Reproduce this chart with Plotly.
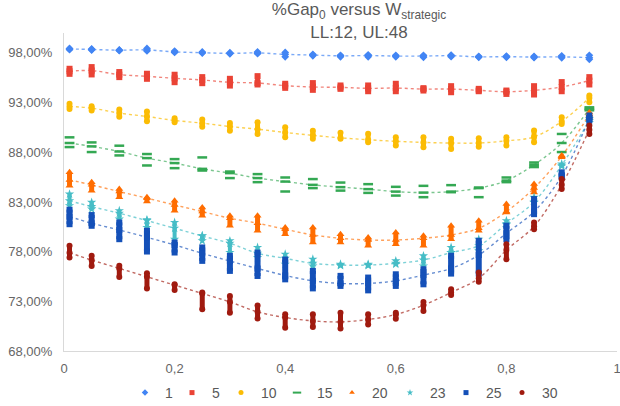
import plotly.graph_objects as go

# ---------------- data ----------------
x_vals = [0.01, 0.05, 0.10, 0.15, 0.20, 0.25, 0.30, 0.35, 0.40, 0.45,
          0.50, 0.55, 0.60, 0.65, 0.70, 0.75, 0.80, 0.85, 0.90, 0.95]

series_names = ["1", "5", "10", "15", "20", "23", "25", "30"]

s1_mid = [98.40, 98.34, 98.27, 98.30, 98.10, 98.02, 97.95, 98.00, 97.85, 97.78,
          97.70, 97.73, 97.68, 97.68, 97.72, 97.60, 97.62, 97.58, 97.60, 97.52]
s1_lo = [98.32, 98.28, 98.22, 98.20, 98.05, 97.98, 97.90, 97.92, 97.60, 97.70,
         97.60, 97.60, 97.60, 97.55, 97.62, 97.55, 97.55, 97.52, 97.50, 97.35]
s1_hi = [98.45, 98.40, 98.30, 98.45, 98.18, 98.10, 98.02, 98.10, 98.05, 97.85,
         97.75, 97.80, 97.75, 97.75, 97.78, 97.65, 97.68, 97.65, 97.70, 97.75]

s5_mid = [96.15, 96.22, 95.81, 95.64, 95.44, 95.27, 95.04, 94.97, 94.70, 94.57,
          94.53, 94.43, 94.46, 94.36, 94.36, 94.23, 94.09, 94.23, 94.57, 95.21]
s5_lo = [95.89, 95.83, 95.56, 95.39, 95.05, 94.95, 94.71, 94.82, 94.48, 94.28,
         94.38, 94.14, 94.14, 94.21, 94.04, 94.14, 93.87, 93.81, 94.14, 94.82]
s5_hi = [96.40, 96.57, 96.07, 95.90, 95.80, 95.56, 95.39, 95.66, 94.89, 94.96,
         94.72, 94.72, 94.89, 94.45, 94.65, 94.38, 94.21, 94.65, 95.06, 95.56]

s10_mid = [92.61, 92.44, 91.94, 91.60, 91.20, 90.93, 90.59, 90.32, 89.99, 89.70,
           89.45, 89.26, 89.10, 88.99, 88.93, 88.93, 89.15, 89.55, 91.10, 93.47]
s10_lo = [92.36, 92.19, 91.58, 91.11, 91.01, 90.57, 90.17, 89.83, 89.50, 89.35,
          89.35, 89.01, 88.67, 88.50, 88.33, 88.56, 88.67, 89.00, 90.85, 93.04]
s10_hi = [92.87, 92.63, 92.30, 92.09, 91.42, 91.29, 90.95, 91.02, 90.51, 90.17,
          89.95, 89.85, 89.51, 89.51, 89.35, 89.41, 89.51, 90.18, 91.53, 93.71]

s15_mid = [88.93, 88.59, 88.08, 87.41, 86.91, 86.33, 85.90, 85.40, 85.05, 84.72,
           84.49, 84.29, 84.04, 83.94, 84.04, 84.39, 85.15, 86.74, 88.93, 92.36]
s15_lo = [88.52, 88.02, 87.68, 86.67, 86.40, 86.16, 85.40, 84.99, 84.05, 84.39,
          84.14, 83.91, 83.64, 83.48, 83.98, 83.48, 84.99, 86.51, 88.02, 92.22]
s15_hi = [89.50, 88.99, 88.66, 87.82, 87.31, 87.48, 86.06, 85.80, 85.46, 85.30,
          84.95, 84.79, 84.52, 84.62, 84.69, 84.45, 85.46, 86.97, 89.84, 92.52]

s20_mid = [85.22, 84.72, 84.04, 83.38, 82.70, 82.03, 81.36, 80.86, 80.25, 79.68,
           79.34, 79.17, 79.17, 79.34, 79.68, 80.35, 82.03, 84.39, 87.60, 91.80]
s20_lo = [84.64, 84.13, 83.46, 83.05, 82.11, 81.61, 80.60, 80.10, 79.75, 78.92,
          78.92, 78.58, 78.74, 78.58, 79.25, 80.10, 81.94, 83.96, 87.49, 91.60]
s20_hi = [85.98, 84.97, 84.30, 83.46, 83.13, 82.45, 81.61, 81.61, 80.43, 80.43,
          79.76, 79.43, 79.93, 79.60, 80.61, 81.11, 82.79, 84.80, 87.67, 92.00]

s23_mid = [83.11, 82.53, 81.86, 81.12, 80.35, 79.57, 78.84, 77.83, 77.32, 76.82,
           76.65, 76.65, 76.82, 77.15, 77.90, 78.60, 80.80, 83.00, 86.70, 91.20]
s23_lo = [82.62, 82.28, 81.27, 80.43, 79.25, 79.09, 77.91, 77.40, 76.73, 76.56,
          76.59, 76.60, 76.73, 76.56, 77.90, 78.08, 80.70, 82.95, 86.60, 91.00]
s23_hi = [83.79, 82.96, 82.12, 81.20, 80.94, 79.60, 79.09, 78.42, 77.74, 77.24,
          76.73, 76.73, 77.07, 77.58, 78.42, 79.25, 81.11, 83.46, 86.82, 91.40]

s25_mid = [81.52, 80.86, 80.18, 79.44, 78.67, 77.83, 77.05, 76.30, 75.60, 75.06,
           74.80, 74.80, 75.06, 75.64, 76.31, 77.66, 79.85, 82.03, 85.60, 91.40]
s25_lo = [80.76, 80.60, 79.25, 78.01, 77.91, 77.07, 76.06, 75.55, 75.21, 74.30,
          74.55, 74.10, 74.55, 74.71, 75.79, 75.79, 79.25, 81.77, 85.47, 91.20]
s25_hi = [82.22, 81.68, 80.94, 80.10, 78.92, 78.42, 77.58, 77.90, 77.20, 76.06,
          75.56, 75.39, 75.72, 76.23, 77.58, 79.09, 80.61, 83.29, 85.98, 91.70]

s30_mid = [77.89, 77.15, 76.31, 75.47, 74.63, 73.79, 72.94, 71.94, 71.37, 71.03,
           70.93, 71.17, 71.67, 72.61, 73.89, 75.31, 78.16, 80.55, 84.72, 90.27]
s30_lo = [77.40, 76.56, 75.45, 74.30, 74.14, 72.19, 71.85, 71.28, 70.34, 70.41,
          70.27, 70.67, 71.25, 72.02, 73.64, 74.98, 77.23, 80.26, 84.29, 89.84]
s30_hi = [78.59, 77.58, 76.57, 75.82, 74.71, 73.88, 73.54, 72.59, 71.69, 71.69,
          71.86, 71.69, 71.86, 72.94, 74.21, 75.89, 78.75, 80.94, 85.31, 90.70]

y_tickvals = [68, 73, 78, 83, 88, 93, 98]
y_ticktext = ["68,00%", "73,00%", "78,00%", "83,00%", "88,00%", "93,00%", "98,00%"]
x_tickvals = [0, 0.2, 0.4, 0.6, 0.8, 1]
x_ticktext = ["0", "0,2", "0,4", "0,6", "0,8", "1"]

# ---------------- styles ----------------
mids = [s1_mid, s5_mid, s10_mid, s15_mid, s20_mid, s23_mid, s25_mid, s30_mid]
los = [s1_lo, s5_lo, s10_lo, s15_lo, s20_lo, s23_lo, s25_lo, s30_lo]
his = [s1_hi, s5_hi, s10_hi, s15_hi, s20_hi, s23_hi, s25_hi, s30_hi]

colors = ["#4285F4", "#EA4335", "#FBBC04", "#34A853", "#FF6D01", "#46BDC6", "#1450B8", "#A01A0F"]
line_colors = ["rgba(66,133,244,0.7)", "rgba(234,67,53,0.65)", "rgba(251,188,4,0.7)",
               "rgba(52,168,83,0.65)", "rgba(255,109,1,0.65)", "rgba(70,189,198,0.7)",
               "rgba(20,80,184,0.65)", "rgba(160,26,15,0.65)"]
symbols = ["diamond", "square", "circle", "line-ew", "triangle-up", "star", "square", "circle"]
sizes = [6, 6, 6, 7, 7, 7, 6, 6]
bar_w = [4, 5, 5, 0, 5, 4, 6, 5]
legend_w = [2, 4, 11, 10, 13, 11, 11, 11]

FONT = "Liberation Sans, Arial, sans-serif"
fig = go.Figure()

for name, mid, lo, hi, col, lcol, sym, sz, bw, lw in zip(series_names, mids, los, his, colors,
                                                         line_colors, symbols, sizes, bar_w, legend_w):
    # trendline
    fig.add_trace(go.Scatter(x=x_vals, y=mid, mode="lines", line=dict(color=lcol, width=1.4, dash="dot",
                             shape="spline", smoothing=1.0), showlegend=False, hoverinfo="skip"))
    mk = dict(symbol=sym, size=sz, color=col)
    if sym == "line-ew":
        mk = dict(symbol=sym, size=sz, color=col, line=dict(color=col, width=2.5))
    if bw > 0:
        err = dict(type="data", symmetric=False,
                   array=[h - m for h, m in zip(hi, mid)],
                   arrayminus=[m - l for m, l in zip(mid, lo)],
                   color=col, thickness=bw, width=0)
        fig.add_trace(go.Scatter(x=x_vals, y=mid, mode="markers", marker=dict(size=1, opacity=0),
                                 error_y=err, showlegend=False, legendgroup=name, hoverinfo="skip"))
    fig.add_trace(go.Scatter(x=x_vals + x_vals + x_vals, y=lo + mid + hi, mode="markers",
                             marker=mk, showlegend=False, legendgroup=name))
    lmk = dict(symbol=sym, size=5, color=col)
    if sym == "line-ew":
        lmk = dict(symbol=sym, size=6, color=col, line=dict(color=col, width=2))
    fig.add_trace(go.Scatter(x=[None], y=[None], mode="markers", marker=lmk, name=name,
                             legendgroup=name, showlegend=True, legendwidth=lw))

fig.update_layout(
    width=620, height=406,
    margin=dict(l=64, r=3, t=33, b=55, autoexpand=False),
    paper_bgcolor="white", plot_bgcolor="white",
    hovermode=False,
    font=dict(family=FONT, color="#666666", size=13),
    title=dict(text="%Gap<sub>0</sub> versus W<sub>strategic</sub><br>LL:12, UL:48",
               x=359 / 620, xanchor="center", xref="container",
               y=0.962, yanchor="top", yref="container",
               font=dict(family=FONT, size=17, color="#595959")),
    legend=dict(orientation="h", x=125 / 620, xanchor="left", xref="container",
                y=1 - 393 / 406, yanchor="middle", yref="container",
                font=dict(family=FONT, size=14, color="#595959"),
                bgcolor="rgba(0,0,0,0)"),
    showlegend=True,
)
fig.update_xaxes(range=[0, 1], tickvals=x_tickvals, ticktext=x_ticktext, showgrid=False,
                 zeroline=False, showline=True, linecolor="#d9d9d9", linewidth=1,
                 ticks="", ticklabelstandoff=5, ticklabeloverflow="allow",
                 tickfont=dict(size=13, color="#666666"))
fig.update_yaxes(range=[68, 100], tickvals=y_tickvals, ticktext=y_ticktext, showgrid=False,
                 zeroline=False, showline=True, linecolor="#d9d9d9", linewidth=1,
                 ticks="", ticklabelstandoff=8, tickfont=dict(size=13, color="#666666"))

fig.write_html("out.html", config={"displayModeBar": False},
               post_script="document.body.style.margin='0';")
